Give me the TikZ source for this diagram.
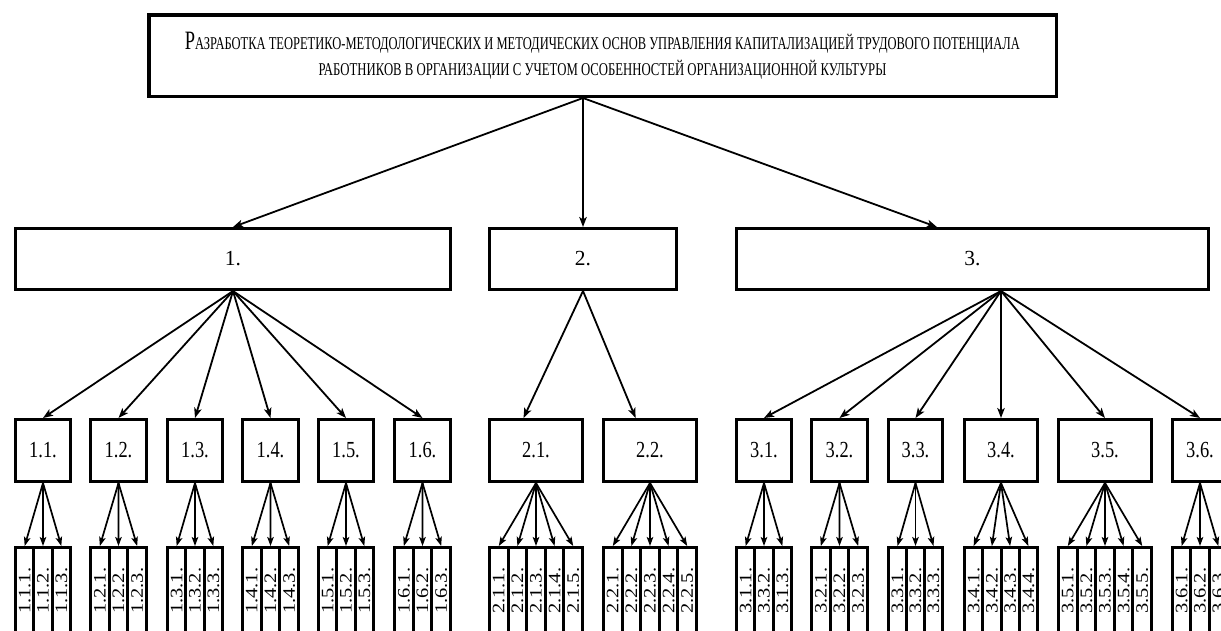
\documentclass[tikz,border=0pt]{standalone}
\usepackage{fontspec}
\setmainfont{Liberation Serif}
\usetikzlibrary{arrows.meta,calc}

% label helpers
\newcommand\headlabel[1]{\fontsize{21.5}{21.5}\selectfont #1}
\newcommand\mainlabel[1]{\fontsize{23}{23}\selectfont\scalebox{0.8}[1]{#1}}
\newcommand\leaflabel[1]{\rotatebox{90}{\fontsize{17.5}{17.5}\selectfont\resizebox{46pt}{\height}{#1}}}

\tikzset{
  box/.style={draw, line width=3pt, inner sep=0pt, fill=white},
  topbox/.style={box, line width=3.5pt, minimum width=907.5, minimum height=81.5, align=center,
    font=\fontsize{18}{26}\selectfont},
  headbox/.style={box, minimum height=61},
  midbox/.style={box, minimum height=62},
  leafbox/.style={box, minimum height=86.5},
  arr/.style={-{Stealth[length=10pt,width=7.5pt,inset=2.5pt]}, line width=1.8pt},
  leafarr/.style={-{Stealth[length=9pt,width=6.5pt,inset=2pt]}, line width=1.7pt},
}

% #1 name, #2 label, #3 left edge, #4 right edge, #5 leaf labels
\newcommand\branch[5]{%
  \node[midbox, minimum width={#4-#3-3}] (#1) at ({(#3+#4)/2},450.5) {\mainlabel{#2}};
  \foreach \t [count=\i] in {#5} {\xdef\nleaves{\i}}
  \pgfmathsetmacro\lw{(#4-#3-3)/\nleaves}
  \foreach \t [count=\i] in {#5} {
    \node[leafbox, minimum width=\lw] (#1-\i) at ({#3+1.5+(\i-0.5)*\lw},590.75) {\leaflabel{\t}};
  }
  \foreach \t [count=\i] in {#5} {
    \draw[leafarr] (#1.south) -- (#1-\i.north);
  }
}

\begin{document}
\begin{tikzpicture}[x=1pt,y=-1pt]
\useasboundingbox (0,0) rectangle (1221,630);
\fill[white] (0,0) rectangle (1221,630);
\clip (0,0) rectangle (1221,630);

% goal
\node[topbox] (top) at (602.5,55.5) {%
  \resizebox{835pt}{\height}{{\fontsize{26.5}{26}\selectfont Р}АЗРАБОТКА ТЕОРЕТИКО-МЕТОДОЛОГИЧЕСКИХ И МЕТОДИЧЕСКИХ ОСНОВ УПРАВЛЕНИЯ КАПИТАЛИЗАЦИЕЙ ТРУДОВОГО ПОТЕНЦИАЛА}\\
  \resizebox{568pt}{\height}{РАБОТНИКОВ В ОРГАНИЗАЦИИ С УЧЕТОМ ОСОБЕННОСТЕЙ ОРГАНИЗАЦИОННОЙ КУЛЬТУРЫ}};

% tasks
\node[headbox, minimum width=435] (b1) at (233,259) {\headlabel{1.}};
\node[headbox, minimum width=187] (b2) at (583,259) {\headlabel{2.}};
\node[headbox, minimum width=472] (b3) at (972.5,259) {\headlabel{3.}};

\draw[arr] (b2.north |- top.south) -- (b1.north);
\draw[arr] (b2.north |- top.south) -- (b2.north);
\draw[arr] (b2.north |- top.south) -- ($(b3.north west)!0.425!(b3.north east)$);

% subtasks and their parts
\branch{g11}{1.1.}{14}{72}{1.1.1.,1.1.2.,1.1.3.}
\branch{g12}{1.2.}{89}{148}{1.2.1.,1.2.2.,1.2.3.}
\branch{g13}{1.3.}{166}{224}{1.3.1.,1.3.2.,1.3.3.}
\branch{g14}{1.4.}{241}{300}{1.4.1.,1.4.2.,1.4.3.}
\branch{g15}{1.5.}{317}{375}{1.5.1.,1.5.2.,1.5.3.}
\branch{g16}{1.6.}{393}{452}{1.6.1.,1.6.2.,1.6.3.}
\branch{g21}{2.1.}{488}{584}{2.1.1.,2.1.2.,2.1.3.,2.1.4.,2.1.5.}
\branch{g22}{2.2.}{602}{698}{2.2.1.,2.2.2.,2.2.3.,2.2.4.,2.2.5.}
\branch{g31}{3.1.}{735}{793}{3.1.1.,3.3.2.,3.1.3.}
\branch{g32}{3.2.}{810}{869}{3.2.1.,3.2.2.,3.2.3.}
\branch{g33}{3.3.}{887}{944}{3.3.1.,3.3.2.,3.3.3.}
\branch{g34}{3.4.}{963}{1039}{3.4.1.,3.4.2.,3.4.3.,3.4.4.}
\branch{g35}{3.5.}{1057}{1153}{3.5.1.,3.5.2.,3.5.3.,3.5.4.,3.5.5.}
\branch{g36}{3.6.}{1171}{1229}{3.6.1.,3.6.2.,3.6.3.}

\foreach \c in {g11,g12,g13,g14,g15,g16}
  \draw[arr] (b1.south) -- (\c.north);
\draw[arr] (b2.south) -- ($(g21.north west)!0.37!(g21.north east)$);
\draw[arr] (b2.south) -- ($(g22.north west)!0.35!(g22.north east)$);
\foreach \c in {g31,g32,g33,g34,g35,g36}
  \draw[arr] (g34.north |- b3.south) -- (\c.north);
\end{tikzpicture}
\end{document}
